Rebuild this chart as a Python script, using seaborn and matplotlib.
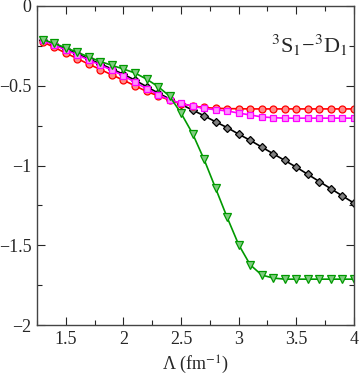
import matplotlib
matplotlib.use("Agg")
import matplotlib.pyplot as plt
import numpy as np
import pandas as pd
import seaborn as sns
from matplotlib.ticker import MultipleLocator, FuncFormatter

# cutoff values (fm^-1)
lam = [1.3, 1.4, 1.5, 1.6, 1.7, 1.8, 1.9, 2.0, 2.1, 2.2, 2.3, 2.4, 2.5, 2.6,
       2.7, 2.8, 2.9, 3.0, 3.1, 3.2, 3.3, 3.4, 3.5, 3.6, 3.7, 3.8, 3.9, 4.0]

black_vals = [-0.212, -0.240, -0.270, -0.300, -0.332, -0.363, -0.395, -0.428,
              -0.465, -0.505, -0.545, -0.582, -0.617, -0.652, -0.688, -0.726,
              -0.762, -0.803, -0.842, -0.884, -0.926, -0.968, -1.010, -1.055,
              -1.100, -1.145, -1.190, -1.235]
red_vals = [-0.225, -0.260, -0.295, -0.330, -0.365, -0.398, -0.432, -0.465,
            -0.500, -0.535, -0.563, -0.590, -0.612, -0.627, -0.636, -0.641,
            -0.643, -0.644, -0.645, -0.645, -0.645, -0.645, -0.645, -0.645,
            -0.645, -0.645, -0.645, -0.645]
magenta_vals = [-0.215, -0.245, -0.276, -0.307, -0.339, -0.370, -0.403, -0.437,
                -0.478, -0.518, -0.555, -0.588, -0.610, -0.628, -0.642, -0.650,
                -0.658, -0.671, -0.683, -0.695, -0.700, -0.703, -0.703, -0.703,
                -0.703, -0.703, -0.703, -0.703]
green_vals = [-0.210, -0.235, -0.262, -0.290, -0.320, -0.348, -0.372, -0.395,
              -0.420, -0.458, -0.505, -0.565, -0.672, -0.800, -0.962, -1.143,
              -1.325, -1.496, -1.622, -1.686, -1.705, -1.712, -1.712, -1.712,
              -1.712, -1.712, -1.712, -1.712]

sns.set_style("ticks")
plt.rcParams["font.family"] = ["Liberation Serif", "DejaVu Serif"]
plt.rcParams["mathtext.fontset"] = "stix"

fig = plt.figure(figsize=(3.6, 3.75), dpi=100)
ax = fig.add_axes([0.103, 0.133, 0.880, 0.851])

# (values, line colour, marker, face colour, size)
series = [
    (black_vals, "black", "D", "#808080", 4.2),
    (red_vals, "#ff0000", "o", "#ff8a8a", 5.0),
    (magenta_vals, "#ff00ff", "s", "#ff90ff", 4.6),
    (green_vals, "#009900", "v", "#80cc80", 5.5),
]
for vals, col, mk, face, ms in series:
    df = pd.DataFrame({"lam": lam, "val": vals})
    sns.lineplot(data=df, x="lam", y="val", ax=ax, color=col, lw=1.2,
                 marker=mk, markersize=ms, markerfacecolor=face,
                 markeredgecolor=col, markeredgewidth=0.9)

ax.set_xlim(1.25, 4.0)
ax.set_ylim(-2.0, 0.0)
ax.xaxis.set_major_locator(MultipleLocator(0.5))
ax.xaxis.set_minor_locator(MultipleLocator(0.25))
ax.yaxis.set_major_locator(MultipleLocator(0.5))
ax.yaxis.set_minor_locator(MultipleLocator(0.25))

fmt = FuncFormatter(lambda v, p: ("%g" % v).replace("-", "\u2212"))
ax.xaxis.set_major_formatter(fmt)
ax.yaxis.set_major_formatter(fmt)

ax.tick_params(which="both", direction="in", top=True, right=True,
               labelsize=13, pad=4)
ax.tick_params(which="major", length=6, width=0.8)
ax.tick_params(which="minor", length=3.5, width=0.8)
for s in ax.spines.values():
    s.set_linewidth(1.0)
    s.set_color("#444444")

ax.set_xlabel("\u039b (fm$^{-1}$)", fontsize=13, labelpad=4)
ax.set_ylabel("")
ax.text(0.86, 0.875, "$^3$S$_1$\u2212$^3$D$_1$", transform=ax.transAxes,
        fontsize=16, ha="center", va="center")

fig.savefig("out.png", dpi=100)
